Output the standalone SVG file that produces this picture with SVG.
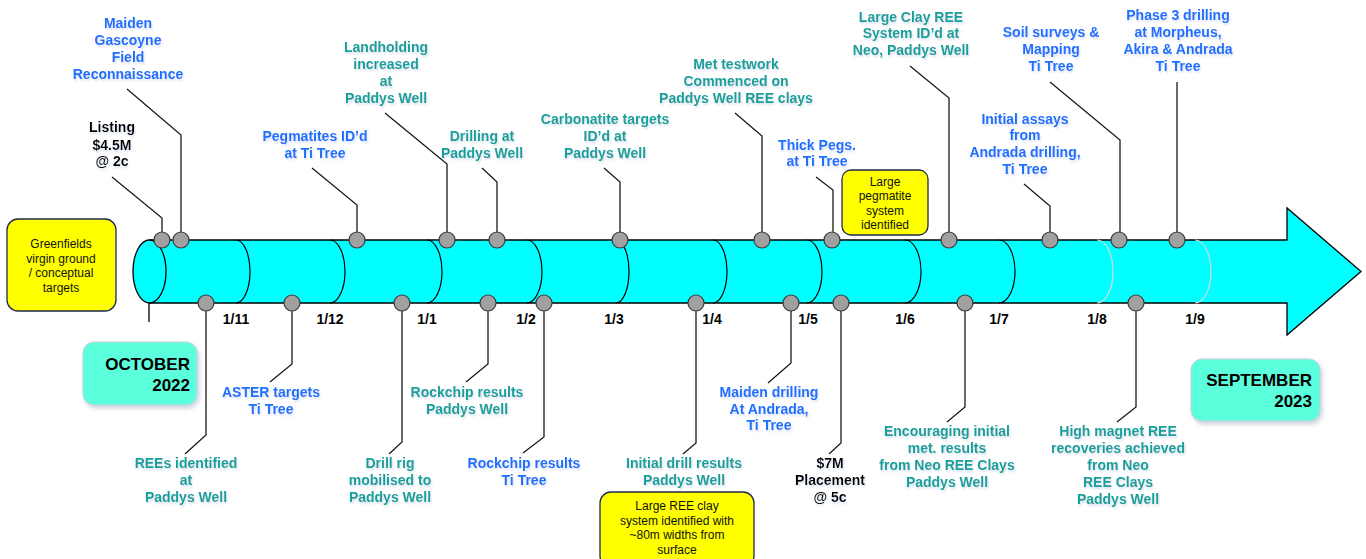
<svg xmlns="http://www.w3.org/2000/svg" width="1366" height="559" viewBox="0 0 1366 559">
<defs>
<filter id="ts" x="-10%" y="-20%" width="120%" height="150%"><feDropShadow dx="1" dy="2" stdDeviation="1" flood-color="#a8b8d8" flood-opacity="0.45"/></filter>
<filter id="bs" x="-10%" y="-10%" width="130%" height="140%"><feDropShadow dx="2" dy="3" stdDeviation="2" flood-color="#9aa8c0" flood-opacity="0.5"/></filter>
</defs>
<style>
text{font-family:"Liberation Sans",Arial,sans-serif;}
.lb{font-size:14px;font-weight:bold;text-anchor:middle;filter:url(#ts);}
.bl{fill:#1f6fff;}
.tl{fill:#17a09a;}
.bk{fill:#000;}
.dt{font-size:14px;font-weight:bold;text-anchor:middle;fill:#000;}
.yb{fill:#ffff00;stroke:#1f2a4a;stroke-width:1.3;}
.yt{font-size:12px;text-anchor:middle;fill:#111;}
.mb{fill:#5cffdc;stroke:#c8d0d8;stroke-width:1;filter:url(#bs);}
.mt{font-size:17px;font-weight:bold;text-anchor:end;fill:#000;}
.ld{fill:none;stroke:#1a1a1a;stroke-width:1.3;}
.dot{fill:#a0a0a0;stroke:#3a3a3a;stroke-width:1.2;}
.arc{fill:none;stroke:#000;stroke-width:1.2;}
.arcl{fill:none;stroke:#d8d8d8;stroke-width:1.2;}
</style>

<g id="timeline-arrow">
<path d="M149.5,240 L1287,240 L1287,208 L1361,271.5 L1287,335 L1287,303 L149.5,303 Z" fill="#00ffff" stroke="#000" stroke-width="1.3"/>
<ellipse cx="149.5" cy="271.5" rx="16.5" ry="31.5" fill="#00ffff" stroke="#000" stroke-width="1.3"/>
<line x1="149" y1="303" x2="149" y2="322" stroke="#000" stroke-width="1.3"/>
<path class="arc" d="M236,240 A14,31.5 0 0 1 236,303"/>
<path class="arc" d="M330,240 A15,31.5 0 0 1 330,303"/>
<path class="arc" d="M427,240 A15,31.5 0 0 1 427,303"/>
<path class="arc" d="M527,240 A15,31.5 0 0 1 527,303"/>
<path class="arc" d="M616,240 A13,31.5 0 0 1 616,303"/>
<path class="arc" d="M713,240 A14,31.5 0 0 1 713,303"/>
<path class="arc" d="M807,240 A15,31.5 0 0 1 807,303"/>
<path class="arc" d="M905,240 A16,31.5 0 0 1 905,303"/>
<path class="arc" d="M999,240 A16,31.5 0 0 1 999,303"/>
<path class="arcl" d="M1097,240 A16,31.5 0 0 1 1097,303"/>
<path class="arcl" d="M1195,240 A16,31.5 0 0 1 1195,303"/>
</g>

<g id="date-labels">
<text class="dt" x="236" y="324">1/11</text>
<text class="dt" x="330" y="324">1/12</text>
<text class="dt" x="427" y="324">1/1</text>
<text class="dt" x="526" y="324">1/2</text>
<text class="dt" x="614" y="324">1/3</text>
<text class="dt" x="712" y="324">1/4</text>
<text class="dt" x="808" y="324">1/5</text>
<text class="dt" x="905" y="324">1/6</text>
<text class="dt" x="999" y="324">1/7</text>
<text class="dt" x="1097" y="324">1/8</text>
<text class="dt" x="1195" y="324">1/9</text>
</g>

<g id="connectors">
<polyline class="ld" points="112,177 162,218 162,240"/>
<polyline class="ld" points="127,89 181,135 181,240"/>
<polyline class="ld" points="312,168 357,205 357,240"/>
<polyline class="ld" points="385,113 447,164 447,240"/>
<polyline class="ld" points="482,168 497,182 497,240"/>
<polyline class="ld" points="604,168 620,182 620,240"/>
<polyline class="ld" points="735,113 762,136 762,240"/>
<polyline class="ld" points="816,177 833,190 833,240"/>
<polyline class="ld" points="910,66 949,98 949,240"/>
<polyline class="ld" points="1024,184 1050,206 1050,240"/>
<polyline class="ld" points="1050,82 1120,140 1120,240"/>
<polyline class="ld" points="1177,82 1177,240"/>
<polyline class="ld" points="206,303 206,435 185,454"/>
<polyline class="ld" points="292,303 292,364 270,382"/>
<polyline class="ld" points="402,303 402,442 389,454"/>
<polyline class="ld" points="488,303 488,364 466,382"/>
<polyline class="ld" points="544,303 544,437 523,453"/>
<polyline class="ld" points="696,303 696,443 683,454"/>
<polyline class="ld" points="791,303 791,363 768,383"/>
<polyline class="ld" points="841,303 841,443 829,454"/>
<polyline class="ld" points="965,303 965,407 947,422"/>
<polyline class="ld" points="1136,303 1136,407 1117,422"/>
</g>

<g id="event-dots">
<circle class="dot" cx="162" cy="240" r="8"/>
<circle class="dot" cx="181" cy="240" r="8"/>
<circle class="dot" cx="357" cy="240" r="8"/>
<circle class="dot" cx="447" cy="240" r="8"/>
<circle class="dot" cx="497" cy="240" r="8"/>
<circle class="dot" cx="620" cy="240" r="8"/>
<circle class="dot" cx="762" cy="240" r="8"/>
<circle class="dot" cx="832" cy="240" r="8"/>
<circle class="dot" cx="949" cy="240" r="8"/>
<circle class="dot" cx="1050" cy="240" r="8"/>
<circle class="dot" cx="1119" cy="240" r="8"/>
<circle class="dot" cx="1177" cy="240" r="8"/>
<circle class="dot" cx="206" cy="303" r="8"/>
<circle class="dot" cx="292" cy="303" r="8"/>
<circle class="dot" cx="402" cy="303" r="8"/>
<circle class="dot" cx="488" cy="303" r="8"/>
<circle class="dot" cx="544" cy="303" r="8"/>
<circle class="dot" cx="696" cy="303" r="8"/>
<circle class="dot" cx="791" cy="303" r="8"/>
<circle class="dot" cx="841" cy="303" r="8"/>
<circle class="dot" cx="965" cy="303" r="8"/>
<circle class="dot" cx="1136" cy="303" r="8"/>
</g>

<g id="greenfields-box">
<rect class="yb" x="7" y="219" width="109" height="92" rx="11"/>
<text class="yt" x="61" y="248">Greenfields</text>
<text class="yt" x="61" y="263">virgin ground</text>
<text class="yt" x="61" y="277">/ conceptual</text>
<text class="yt" x="61" y="292">targets</text>
</g>

<g id="october-box">
<rect class="mb" x="83" y="342" width="114" height="63" rx="11"/>
<text class="mt" x="190" y="370">OCTOBER</text>
<text class="mt" x="190" y="391">2022</text>
</g>

<g id="september-box">
<rect class="mb" x="1191" y="359" width="129" height="62" rx="11"/>
<text class="mt" x="1312" y="386">SEPTEMBER</text>
<text class="mt" x="1312" y="407">2023</text>
</g>

<g id="pegmatite-box">
<rect class="yb" x="842" y="170" width="86" height="65" rx="9"/>
<text class="yt" x="885" y="186" font-size="11px">Large</text>
<text class="yt" x="885" y="200" font-size="11px">pegmatite</text>
<text class="yt" x="885" y="215" font-size="11px">system</text>
<text class="yt" x="885" y="229" font-size="11px">identified</text>
</g>

<g id="ree-clay-box">
<rect class="yb" x="600" y="492" width="154" height="75" rx="11"/>
<text class="yt" x="677" y="510">Large REE clay</text>
<text class="yt" x="677" y="525">system identified with</text>
<text class="yt" x="677" y="539">~80m widths from</text>
<text class="yt" x="677" y="554">surface</text>
</g>

<g id="n-maiden-gascoyne">
<text class="lb bl" x="128" y="28">Maiden</text>
<text class="lb bl" x="128" y="45">Gascoyne</text>
<text class="lb bl" x="128" y="62">Field</text>
<text class="lb bl" x="128" y="79">Reconnaissance</text>
</g>
<g id="n-listing">
<text class="lb bk" x="112" y="132">Listing</text>
<text class="lb bk" x="112" y="150">$4.5M</text>
<text class="lb bk" x="112" y="166">@ 2c</text>
</g>
<g id="n-pegmatites">
<text class="lb bl" x="315" y="141">Pegmatites ID’d</text>
<text class="lb bl" x="315" y="158">at Ti Tree</text>
</g>
<g id="n-landholding">
<text class="lb tl" x="386" y="52">Landholding</text>
<text class="lb tl" x="386" y="69">increased</text>
<text class="lb tl" x="386" y="86">at</text>
<text class="lb tl" x="386" y="103">Paddys Well</text>
</g>
<g id="n-drilling">
<text class="lb tl" x="482" y="141">Drilling at</text>
<text class="lb tl" x="482" y="158">Paddys Well</text>
</g>
<g id="n-carbonatite">
<text class="lb tl" x="605" y="124">Carbonatite targets</text>
<text class="lb tl" x="605" y="141">ID’d at</text>
<text class="lb tl" x="605" y="158">Paddys Well</text>
</g>
<g id="n-met-testwork">
<text class="lb tl" x="736" y="69">Met testwork</text>
<text class="lb tl" x="736" y="86">Commenced on</text>
<text class="lb tl" x="736" y="103">Paddys Well REE clays</text>
</g>
<g id="n-thick-pegs">
<text class="lb bl" x="817" y="150">Thick Pegs.</text>
<text class="lb bl" x="817" y="166">at Ti Tree</text>
</g>
<g id="n-large-clay">
<text class="lb tl" x="911" y="22">Large Clay REE</text>
<text class="lb tl" x="911" y="38">System ID’d at</text>
<text class="lb tl" x="911" y="55">Neo, Paddys Well</text>
</g>
<g id="n-initial-assays">
<text class="lb bl" x="1025" y="124">Initial assays</text>
<text class="lb bl" x="1025" y="140">from</text>
<text class="lb bl" x="1025" y="157">Andrada drilling,</text>
<text class="lb bl" x="1025" y="174">Ti Tree</text>
</g>
<g id="n-soil-surveys">
<text class="lb bl" x="1051" y="37">Soil surveys &amp;</text>
<text class="lb bl" x="1051" y="54">Mapping</text>
<text class="lb bl" x="1051" y="71">Ti Tree</text>
</g>
<g id="n-phase3">
<text class="lb bl" x="1178" y="20">Phase 3 drilling</text>
<text class="lb bl" x="1178" y="37">at Morpheus,</text>
<text class="lb bl" x="1178" y="54">Akira &amp; Andrada</text>
<text class="lb bl" x="1178" y="71">Ti Tree</text>
</g>
<g id="n-rees-identified">
<text class="lb tl" x="186" y="468">REEs identified</text>
<text class="lb tl" x="186" y="485">at</text>
<text class="lb tl" x="186" y="502">Paddys Well</text>
</g>
<g id="n-aster">
<text class="lb bl" x="271" y="397">ASTER targets</text>
<text class="lb bl" x="271" y="414">Ti Tree</text>
</g>
<g id="n-drill-rig">
<text class="lb tl" x="390" y="468">Drill rig</text>
<text class="lb tl" x="390" y="485">mobilised to</text>
<text class="lb tl" x="390" y="502">Paddys Well</text>
</g>
<g id="n-rockchip-pw">
<text class="lb tl" x="467" y="397">Rockchip results</text>
<text class="lb tl" x="467" y="414">Paddys Well</text>
</g>
<g id="n-rockchip-tt">
<text class="lb bl" x="524" y="468">Rockchip results</text>
<text class="lb bl" x="524" y="485">Ti Tree</text>
</g>
<g id="n-initial-drill">
<text class="lb tl" x="684" y="468">Initial drill results</text>
<text class="lb tl" x="684" y="485">Paddys Well</text>
</g>
<g id="n-maiden-drilling">
<text class="lb bl" x="769" y="397">Maiden drilling</text>
<text class="lb bl" x="769" y="414">At Andrada,</text>
<text class="lb bl" x="769" y="430">Ti Tree</text>
</g>
<g id="n-placement">
<text class="lb bk" x="830" y="468">$7M</text>
<text class="lb bk" x="830" y="485">Placement</text>
<text class="lb bk" x="830" y="502">@ 5c</text>
</g>
<g id="n-encouraging">
<text class="lb tl" x="947" y="436">Encouraging initial</text>
<text class="lb tl" x="947" y="453">met. results</text>
<text class="lb tl" x="947" y="470">from Neo REE Clays</text>
<text class="lb tl" x="947" y="487">Paddys Well</text>
</g>
<g id="n-high-magnet">
<text class="lb tl" x="1118" y="436">High magnet REE</text>
<text class="lb tl" x="1118" y="453">recoveries achieved</text>
<text class="lb tl" x="1118" y="470">from Neo</text>
<text class="lb tl" x="1118" y="487">REE Clays</text>
<text class="lb tl" x="1118" y="504">Paddys Well</text>
</g>
</svg>
